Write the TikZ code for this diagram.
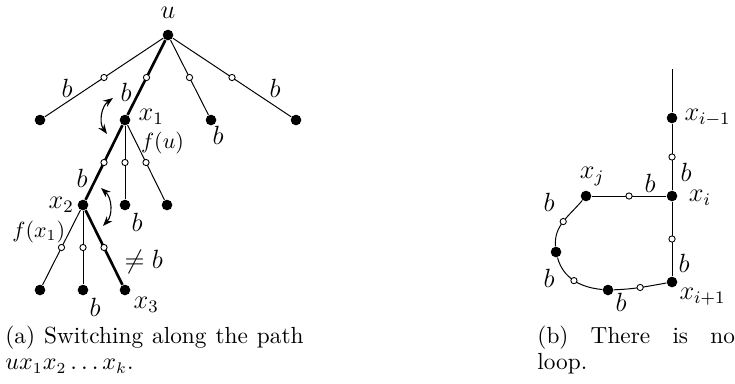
\documentclass[tikz,border=0pt]{standalone}
\usepackage{amsmath}
\usepackage{amssymb}
\usepackage{tikz}
\usetikzlibrary{arrows.meta}

\begin{document}
\begin{tikzpicture}[
    dot/.style={circle, fill=black, inner sep=0pt, minimum size=0.17cm},
    hollow/.style={circle, draw=black, fill=white, line width=0.4pt,
                   inner sep=0pt, minimum size=0.1cm},
    edge/.style={line width=0.45pt},
    pathedge/.style={line width=1.2pt},
    lbl/.style={font=\large, inner sep=1pt},
    smalllbl/.style={font=\normalsize, inner sep=1pt},
    swaparrow/.style={{Stealth[length=4.5pt]}-{Stealth[length=4.5pt]}, line width=0.5pt},
    captext/.style={anchor=north west, inner sep=0pt, align=justify,
                    font=\fontsize{10.6}{12}\selectfont},
]
  \useasboundingbox (0,0) rectangle (11.76, 6.128);

  % ---- (a) tree: vertices ----
  \node[dot] (u)  at (2.688, 5.568) {};
  \node[dot] (a1) at (0.64,  4.208) {};
  \node[dot] (x1) at (2.0,   4.208) {};
  \node[dot] (a3) at (3.376, 4.208) {};
  \node[dot] (a4) at (4.736, 4.208) {};
  \node[dot] (x2) at (1.328, 2.848) {};
  \node[dot] (b2) at (2.0,   2.848) {};
  \node[dot] (b3) at (2.672, 2.848) {};
  \node[dot] (c1) at (0.64,  1.488) {};
  \node[dot] (c2) at (1.328, 1.488) {};
  \node[dot] (x3) at (2.0,   1.488) {};

  % ---- (a) tree: edges ----
  \draw[edge]     (u)  -- node[hollow] (ha1) {} (a1);
  \draw[pathedge] (u)  -- node[hollow] (hx1) {} (x1);
  \draw[edge]     (u)  -- node[hollow] (ha3) {} (a3);
  \draw[edge]     (u)  -- node[hollow] (ha4) {} (a4);
  \draw[pathedge] (x1) -- node[hollow] (hx2) {} (x2);
  \draw[edge]     (x1) -- node[hollow] (hb2) {} (b2);
  \draw[edge]     (x1) -- node[hollow] (hb3) {} (b3);
  \draw[edge]     (x2) -- node[hollow] (hc1) {} (c1);
  \draw[edge]     (x2) -- node[hollow] (hc2) {} (c2);
  \draw[pathedge] (x2) -- node[hollow] (hx3) {} (x3);

  % ---- (a) switching arrows ----
  \coordinate (s1a) at (1.808, 4.56);
  \coordinate (s1b) at (1.712, 3.984);
  \coordinate (s2a) at (1.616, 3.12);
  \coordinate (s2b) at (1.648, 2.512);
  \draw[swaparrow] (s1a) to[bend right=45] (s1b);
  \draw[swaparrow] (s2a) to[bend left=45] (s2b);

  % ---- (a) labels ----
  \node[lbl] (lu)   at (2.688, 5.93)  {$u$};
  \node[lbl] (lb1)  at (1.072, 4.72)  {$b$};
  \node[lbl] (lb2)  at (2.016, 4.656) {$b$};
  \node[lbl] (lb3)  at (4.4,   4.72)  {$b$};
  \node[lbl] (lb4)  at (3.488, 3.968) {$b$};
  \node[lbl] (lx1)  at (2.42,  4.256) {$x_1$};
  \node[smalllbl] (lfu) at (2.6, 3.84) {$f(u)$};
  \node[lbl] (lb5)  at (1.312, 3.28)  {$b$};
  \node[lbl] (lx2)  at (0.98,  2.848) {$x_2$};
  \node[lbl] (lb6)  at (2.192, 2.576) {$b$};
  \node[smalllbl] (lfx) at (0.62, 2.416) {$f(x_1)$};
  \node[lbl] (lnb)  at (2.3,   1.936) {$\neq b$};
  \node[lbl] (lb7)  at (1.52,  1.216) {$b$};
  \node[lbl] (lx3)  at (2.34,  1.248) {$x_3$};

  % ---- (b) no loop: vertices ----
  \coordinate (top) at (10.752, 5.024);
  \node[dot] (xim1) at (10.752, 4.24)  {};
  \node[dot] (xi)   at (10.752, 2.992) {};
  \node[dot] (xip1) at (10.752, 1.616) {};
  \node[dot] (xj)   at (9.376,  2.992) {};
  \node[dot] (d1)   at (8.896,  2.096) {};
  \node[dot] (d2)   at (9.728,  1.488) {};

  % ---- (b) edges ----
  \draw[edge] (top) -- (xim1) -- node[hollow] (r1) {} (xi)
                    -- node[hollow] (r2) {} (xip1);
  \draw[edge] (xi) -- node[hollow] (r3) {} (xj);
  \draw[edge] (xj) to[out=-130, in=95] node[hollow] (r4) {} (d1)
                   to[out=-75, in=175] node[hollow] (r5) {} (d2)
                   to[out=2, in=190]   node[hollow] (r6) {} (xip1);

  % ---- (b) labels ----
  \node[lbl] (lxim1) at (11.32,  4.24)  {$x_{i-1}$};
  \node[lbl] (lxi)   at (11.2,   2.96)  {$x_i$};
  \node[lbl] (lxip1) at (11.24,  1.376) {$x_{i+1}$};
  \node[lbl] (lxj)   at (9.472,  3.296) {$x_j$};
  \node[lbl] (lr1)   at (10.976, 3.376) {$b$};
  \node[lbl] (lr3)   at (10.4,   3.2)   {$b$};
  \node[lbl] (lr2)   at (10.944, 1.92)  {$b$};
  \node[lbl] (lr4)   at (8.784,  2.896) {$b$};
  \node[lbl] (lr5)   at (8.784,  1.68)  {$b$};
  \node[lbl] (lr6)   at (9.936,  1.296) {$b$};

  % ---- captions ----
  \node[captext, text width=4.77cm] (capa) at (0.08, 0.92)
    {(a) Switching along the path\linebreak $ux_1x_2\ldots x_k$.};
  \node[captext, text width=3.16cm] (capb) at (8.592, 0.92)
    {(b) There is no\linebreak loop.};
\end{tikzpicture}
\end{document}
